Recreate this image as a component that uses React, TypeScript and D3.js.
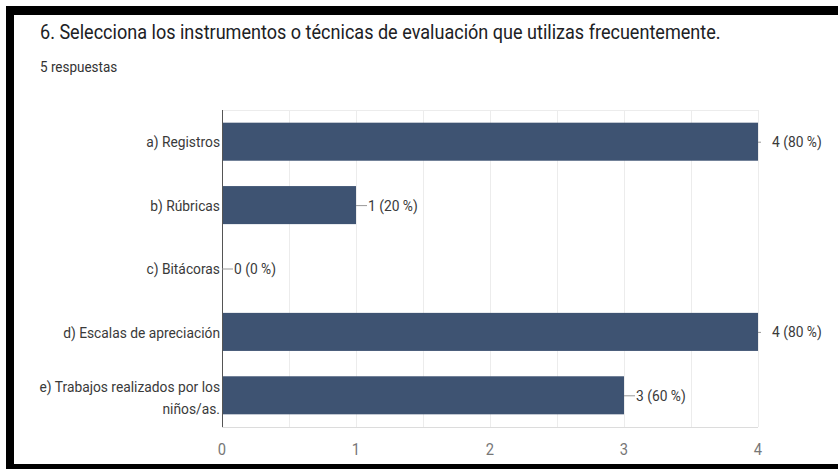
import React from "react";
import * as d3 from "d3";

const categories = [
  ["a) Registros"],
  ["b) Rúbricas"],
  ["c) Bitácoras"],
  ["d) Escalas de apreciación"],
  ["e) Trabajos realizados por los", "niños/as."],
];
const values = [4, 1, 0, 4, 3];
const percents = ["80 %", "20 %", "0 %", "80 %", "60 %"];
const xTicks = [0, 1, 2, 3, 4];
const gridTicks = [0.5, 1, 1.5, 2, 2.5, 3, 3.5, 4];
const title = "6. Selecciona los instrumentos o técnicas de evaluación que utilizas frecuentemente.";
const subtitle = "5 respuestas";

const W = 838;
const H = 469;
const FONT = "Roboto, 'Noto Sans', sans-serif";
const SX = 0.92;

function T({ x, y, anchor = "start", size, fill, children, sx = SX }: any) {
  return (
    <text
      transform={`translate(${x},${y}) scale(${sx},1)`}
      textAnchor={anchor}
      fontSize={size}
      fill={fill}
      fontFamily={FONT}
    >
      {children}
    </text>
  );
}

export default function App() {
  const left = 222;
  const right = 758;
  const top = 110;
  const bottom = 427;
  const x = d3.scaleLinear().domain([0, 4]).range([left, right]);
  const y = d3
    .scaleBand<number>()
    .domain(d3.range(categories.length))
    .range([top, bottom])
    .paddingInner(0.4)
    .paddingOuter(0.2);
  const band = d3.scaleBand<number>().domain(d3.range(categories.length)).range([top, bottom]);
  const maxV = d3.max(values) as number;

  return (
    <svg
      width={W}
      height={H}
      style={{ position: "absolute", left: 0, top: 0, background: "#fff" }}
    >
      <rect x={0} y={0} width={W} height={H} fill="#fff" />
      {/* frame */}
      <rect x={6} y={6} width={W - 6} height={9} fill="#000" />
      <rect x={6} y={6} width={8} height={H - 6} fill="#000" />
      <rect x={6} y={464} width={W - 6} height={5} fill="#000" />

      <T x={40} y={39} size={20} fill="#202124" sx={0.903}>{title}</T>
      <T x={40} y={72} size={15} fill="#333" sx={0.9}>{subtitle}</T>

      {/* grid */}
      <line x1={left} x2={right} y1={top + 0.5} y2={top + 0.5} stroke="#ececec" />
      {gridTicks.map((t) => (
        <line
          key={t}
          x1={Math.round(x(t)) + 0.5}
          x2={Math.round(x(t)) + 0.5}
          y1={top}
          y2={bottom}
          stroke="#ececec"
        />
      ))}
      <line x1={left} x2={right} y1={bottom + 0.5} y2={bottom + 0.5} stroke="#dcdcdc" />

      {/* bars */}
      {values.map((v, i) => (
        <rect
          key={i}
          x={x(0)}
          y={y(i)}
          width={x(v) - x(0)}
          height={y.bandwidth()}
          fill="#3e5372"
        />
      ))}
      <line x1={left + 0.5} x2={left + 0.5} y1={top} y2={bottom} stroke="#555" />

      {/* value labels */}
      {values.map((v, i) => {
        const cy = (band(i) as number) + band.bandwidth() / 2;
        const atMax = v === maxV;
        const x0 = x(v);
        const x1 = atMax ? x0 + 3 : x0 + 11;
        const tx = atMax ? x0 + 14 : x0 + 12;
        return (
          <g key={i}>
            <line x1={x0} x2={x1} y1={cy + 0.5} y2={cy + 0.5} stroke="#999" />
            <T x={tx} y={cy + 5.5} size={15} fill="#3a3a3a">{`${v} (${percents[i]})`}</T>
          </g>
        );
      })}

      {/* category labels */}
      {categories.map((lines, i) => {
        const cy = (band(i) as number) + band.bandwidth() / 2;
        const y0 = lines.length === 1 ? cy + 5.6 : cy - 3.5;
        return (
          <g key={i}>
            {lines.map((l, j) => (
              <T key={j} x={220} y={y0 + j * 22} anchor="end" size={15} fill="#3a3a3a">{l}</T>
            ))}
          </g>
        );
      })}

      {/* x ticks */}
      {xTicks.map((t) => (
        <T key={t} x={x(t)} y={455} anchor="middle" size={16} fill="#777">{String(t)}</T>
      ))}
    </svg>
  );
}
